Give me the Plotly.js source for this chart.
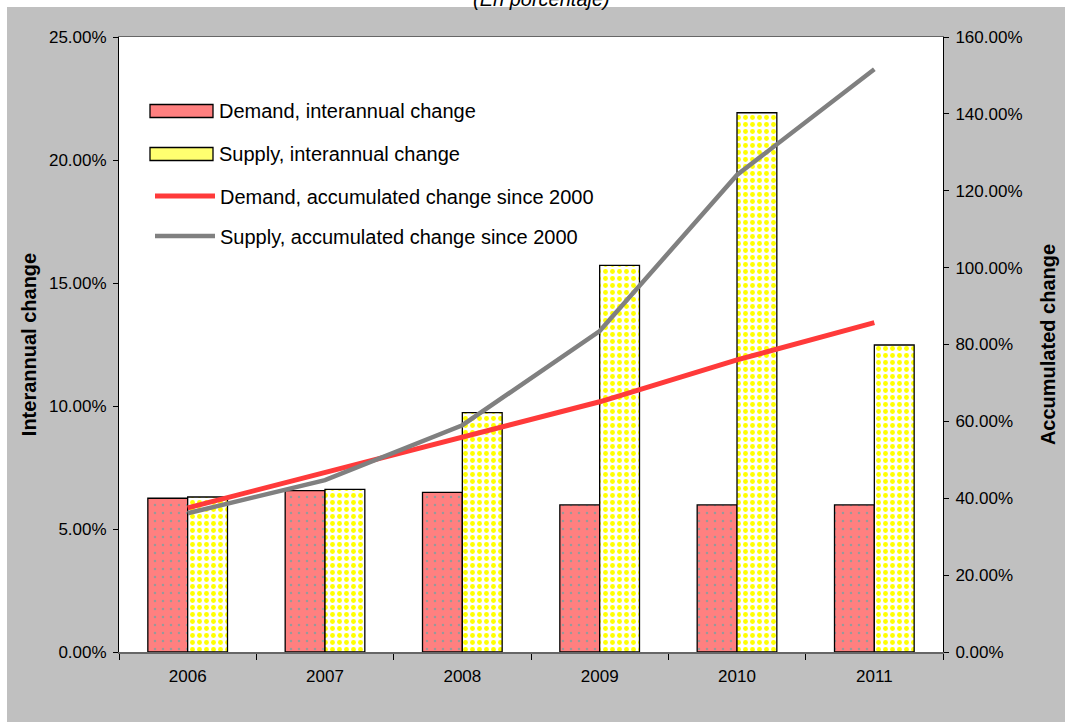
<!DOCTYPE html>
<html>
<head>
<meta charset="utf-8">
<script src="https://cdn.plot.ly/plotly-3.0.1.min.js"></script>
<style>
html,body{margin:0;padding:0;background:#ffffff;}
#chart{width:1065px;height:723px;}
</style>
</head>
<body>
<div id="chart"></div>
<script>
const years = ['2006', '2007', '2008', '2009', '2010', '2011'];
const demandInterannual = [6.25, 6.56, 6.49, 5.98, 5.98, 5.98];
const supplyInterannual = [6.30, 6.61, 9.73, 15.72, 21.92, 12.48];
const demandAccumulated = [37.5, 46.6, 56.0, 65.1, 76.0, 85.7];
const supplyAccumulated = [36.1, 44.7, 59.0, 83.5, 124.1, 151.6];
const seriesNames = [
  'Demand, interannual change',
  'Supply, interannual change',
  'Demand, accumulated change since 2000',
  'Supply, accumulated change since 2000'
];

const FONT = 'Liberation Sans, Arial, sans-serif';
const LEGEND_SIZE = 20;

// plot area in pixels
const L = 119, R = 943, T = 37, B = 652, W = 1065, H = 723;
const pw = R - L, ph = B - T;
const px = x => (x - L) / pw;
const py = y => (B - y) / ph;

const demandColor = '#ff8080';
const supplyBg = '#ffffff';
const supplyDots = '#ffff00';

const traces = [
  {
    type: 'bar', x: years, y: demandInterannual, name: seriesNames[0],
    showlegend: false,
    marker: {
      color: demandColor,
      line: {color: '#000000', width: 1.3},
      pattern: {shape: '.', fgcolor: '#999999', bgcolor: demandColor, size: 8, solidity: 0.08}
    },
    hoverinfo: 'skip'
  },
  {
    type: 'bar', x: years, y: supplyInterannual, name: seriesNames[1],
    showlegend: false,
    marker: {
      color: supplyBg,
      line: {color: '#000000', width: 1.3},
      pattern: {shape: '.', fgcolor: supplyDots, bgcolor: supplyBg, size: 7, solidity: 0.38}
    },
    hoverinfo: 'skip'
  },
  {
    type: 'scatter', mode: 'lines', x: years, y: demandAccumulated, name: seriesNames[2],
    yaxis: 'y2', legend: 'legend',
    line: {color: '#ff3a3a', width: 5},
    hoverinfo: 'skip'
  },
  {
    type: 'scatter', mode: 'lines', x: years, y: supplyAccumulated, name: seriesNames[3],
    yaxis: 'y2', legend: 'legend2',
    line: {color: '#808080', width: 4.5},
    hoverinfo: 'skip'
  }
];

function legendAt(yPix) {
  return {
    x: px(150), xanchor: 'left',
    y: py(yPix), yanchor: 'middle',
    bgcolor: 'rgba(0,0,0,0)', borderwidth: 0,
    font: {family: FONT, size: LEGEND_SIZE, color: '#000000'},
    itemwidth: 60
  };
}

// legend swatches for the bar series (the library's legend swatch for bars is a small square)
function swatch(yPix, fill) {
  return {type: 'rect', xref: 'paper', yref: 'paper',
    x0: px(150), x1: px(213), y0: py(yPix + 6.5), y1: py(yPix - 6.5),
    fillcolor: fill, line: {color: '#000000', width: 1.3}, layer: 'above'};
}
function legendText(yPix, text) {
  return {text: text, showarrow: false, xref: 'paper', yref: 'paper',
    x: px(217), y: py(yPix), xanchor: 'left', yanchor: 'middle',
    font: {family: FONT, size: LEGEND_SIZE, color: '#000000'}};
}

const layout = {
  width: W, height: H,
  margin: {l: L, r: W - R, t: T, b: H - B, pad: 0},
  paper_bgcolor: '#c0c0c0',
  plot_bgcolor: '#ffffff',
  font: {family: FONT, size: 17, color: '#000000'},
  barmode: 'group',
  bargap: 0.42,
  bargroupgap: 0,
  showlegend: true,
  legend: legendAt(196),
  legend2: legendAt(236),
  xaxis: {
    type: 'category',
    showgrid: false, zeroline: false,
    showline: true, linecolor: '#666666', linewidth: 1.5, mirror: true,
    ticks: 'outside', tickson: 'boundaries', ticklen: 6, tickcolor: '#000000', tickwidth: 1,
    ticklabelstandoff: 8,
    tickfont: {family: FONT, size: 17, color: '#000000'},
    fixedrange: true
  },
  yaxis: {
    range: [0, 25], dtick: 5, tick0: 0,
    ticksuffix: '%', tickformat: '.2f',
    showgrid: false, zeroline: false,
    showline: true, linecolor: '#000000', linewidth: 1,
    ticks: 'outside', ticklen: 5, tickcolor: '#000000',
    ticklabelstandoff: 3,
    tickfont: {family: FONT, size: 17, color: '#000000'},
    title: {text: 'Interannual change', font: {family: FONT, size: 20, color: '#000000', weight: 'bold'}, standoff: 6},
    fixedrange: true
  },
  yaxis2: {
    overlaying: 'y', side: 'right',
    range: [0, 160], dtick: 20, tick0: 0,
    ticksuffix: '%', tickformat: '.2f',
    showgrid: false, zeroline: false,
    showline: true, linecolor: '#000000', linewidth: 1,
    ticks: 'outside', ticklen: 5, tickcolor: '#000000',
    ticklabelstandoff: 3,
    tickfont: {family: FONT, size: 17, color: '#000000'},
    title: {text: 'Accumulated change', font: {family: FONT, size: 20, color: '#000000', weight: 'bold'}, standoff: 19},
    fixedrange: true
  },
  shapes: [
    // white frame around the grey chart area
    {type: 'rect', xref: 'paper', yref: 'paper', x0: -0.3, x1: 1.3, y0: py(7), y1: py(-20), fillcolor: '#ffffff', line: {width: 0}, layer: 'below'},
    {type: 'rect', xref: 'paper', yref: 'paper', x0: -0.3, x1: px(7), y0: -0.3, y1: 1.3, fillcolor: '#ffffff', line: {width: 0}, layer: 'below'},
    {type: 'rect', xref: 'paper', yref: 'paper', x0: -0.3, x1: 1.3, y0: py(740), y1: py(722), fillcolor: '#ffffff', line: {width: 0}, layer: 'below'},
    swatch(111, demandColor),
    swatch(154, '#ffff70')
  ],
  annotations: [
    {
      text: '(En porcentaje)', showarrow: false,
      xref: 'paper', yref: 'paper', x: px(541), y: py(-1.5),
      xanchor: 'center', yanchor: 'middle',
      font: {family: FONT, size: 20, style: 'italic', color: '#000000'}
    },
    legendText(111, seriesNames[0]),
    legendText(154, seriesNames[1])
  ]
};

Plotly.newPlot('chart', traces, layout, {displayModeBar: false, staticPlot: true});
</script>
</body>
</html>
